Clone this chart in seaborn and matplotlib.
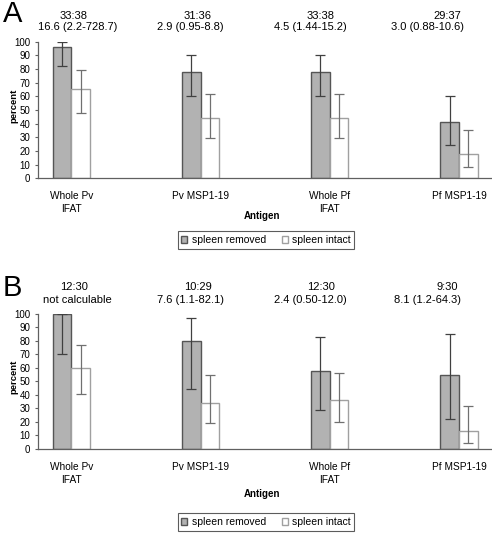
import numpy as np
import pandas as pd
import matplotlib
matplotlib.use("Agg")
import matplotlib.pyplot as plt
import seaborn as sns

# -------------------------
# DATA
# -------------------------

antigens = ["Whole Pv\nIFAT", "Pv MSP1-19", "Whole Pf\nIFAT", "Pf MSP1-19"]
groups = ["spleen removed", "spleen intact"]

# Panel A
a_removed = [96, 78, 78, 41]
a_removed_lo = [82, 60.5, 60.5, 24.5]
a_removed_hi = [100, 90.5, 90.5, 60.5]
a_intact = [65, 44, 44, 18]
a_intact_lo = [48, 29.5, 29.5, 8.5]
a_intact_hi = [79, 61.5, 61.5, 35.5]
a_ratio = ["33:38", "31:36", "33:38", "29:37"]
a_or = ["16.6 (2.2-728.7)", "2.9 (0.95-8.8)", "4.5 (1.44-15.2)", "3.0 (0.88-10.6)"]

# Panel B
b_removed = [100, 80, 58, 55]
b_removed_lo = [70.5, 44.5, 28.5, 22]
b_removed_hi = [100, 97, 83, 85]
b_intact = [60, 34, 36, 13]
b_intact_lo = [41, 19, 20, 4.5]
b_intact_hi = [77, 55, 56, 32]
b_ratio = ["12:30", "10:29", "12:30", "9:30"]
b_or = ["not calculable", "7.6 (1.1-82.1)", "2.4 (0.50-12.0)", "8.1 (1.2-64.3)"]

# text placement (label offsets in category units)
ratio_dx = [0.02, -0.02, -0.07, -0.09]
or_dx = [0.05, -0.08, -0.15, -0.24]

plt.rcParams["font.family"] = ["Liberation Sans", "DejaVu Sans"]

fill_colors = ["#b2b2b2", "#ffffff"]
edge_colors = ["#555555", "#a0a0a0"]
err_colors = ["#404040", "#707070"]


def draw_panel(ax, removed, rem_lo, rem_hi, intact, int_lo, int_hi,
               ratios, ors, ratio_y, or_y, xlabel_y, legend_y):
    df = pd.DataFrame({
        "Antigen": antigens * 2,
        "group": [groups[0]] * 4 + [groups[1]] * 4,
        "percent": removed + intact,
    })
    sns.barplot(
        data=df, x="Antigen", y="percent", hue="group",
        order=antigens, hue_order=groups,
        palette=fill_colors, width=0.29, errorbar=None,
        linewidth=1.0, ax=ax, legend=False,
    )
    vals = [(np.array(removed), np.array(rem_lo), np.array(rem_hi)),
            (np.array(intact), np.array(int_lo), np.array(int_hi))]
    bars = list(ax.containers)
    for i, cont in enumerate(bars):
        for p in cont:
            p.set_edgecolor(edge_colors[i])
            p.set_facecolor(fill_colors[i])
        xs = [p.get_x() + p.get_width() / 2 for p in cont]
        v, lo, hi = vals[i]
        ax.errorbar(xs, v, yerr=[v - lo, hi - v], fmt="none",
                    ecolor=err_colors[i], elinewidth=0.9, capsize=3.5,
                    capthick=0.9, zorder=3)

    ax.set_xlim(-0.258, 3.256)
    ax.set_ylim(0, 100)
    ax.set_yticks(range(0, 101, 10))
    ax.tick_params(axis="y", labelsize=7, length=2.5, width=0.8,
                   color="#606060", pad=3)
    ax.tick_params(axis="x", labelsize=7.3, length=0, pad=9)
    for lab in ax.get_xticklabels():
        lab.set_linespacing(1.45)
    ax.set_ylabel("percent", fontsize=6.8, fontweight="bold")
    ax.yaxis.set_label_coords(-0.054, 0.53)
    ax.yaxis.label.set_va("center")
    ax.set_xlabel("Antigen", fontsize=7, fontweight="bold")
    ax.xaxis.set_label_coords(0.493, xlabel_y)
    ax.xaxis.label.set_va("center")
    for s in ["top", "right"]:
        ax.spines[s].set_visible(False)
    for s in ["left", "bottom"]:
        ax.spines[s].set_color("#606060")
        ax.spines[s].set_linewidth(0.9)

    for k in range(4):
        ax.text(k + ratio_dx[k], ratio_y, ratios[k], ha="center",
                va="center", fontsize=8)
        ax.text(k + or_dx[k], or_y, ors[k], ha="center",
                va="center", fontsize=8)

    leg = ax.legend(
        handles=[bars[0][0], bars[1][0]],
        labels=groups, loc="center", bbox_to_anchor=(0.502, legend_y),
        ncol=2, fontsize=7.5, frameon=True, fancybox=False,
        handlelength=0.6, handleheight=0.6, handletextpad=0.4,
        columnspacing=1.5, borderpad=0.35,
    )
    leg.get_frame().set_edgecolor("#333333")
    leg.get_frame().set_linewidth(0.8)


fig = plt.figure(figsize=(4.92, 5.36), dpi=100)
ax_a = fig.add_axes([0.0772, 0.6674, 0.9228, 0.2549])
ax_b = fig.add_axes([0.0772, 0.1623, 0.9228, 0.2524])

draw_panel(ax_a, a_removed, a_removed_lo, a_removed_hi,
           a_intact, a_intact_lo, a_intact_hi,
           a_ratio, a_or, 118.8, 111, -0.276, -0.452)
draw_panel(ax_b, b_removed, b_removed_lo, b_removed_hi,
           b_intact, b_intact_lo, b_intact_hi,
           b_ratio, b_or, 120, 110, -0.33, -0.54)

fig.text(0.006, 1 - 14 / 536, "A", fontsize=21, va="center", ha="left")
fig.text(0.006, 1 - 288 / 536, "B", fontsize=21, va="center", ha="left")

plt.savefig("out.png", dpi=100)
plt.close()
